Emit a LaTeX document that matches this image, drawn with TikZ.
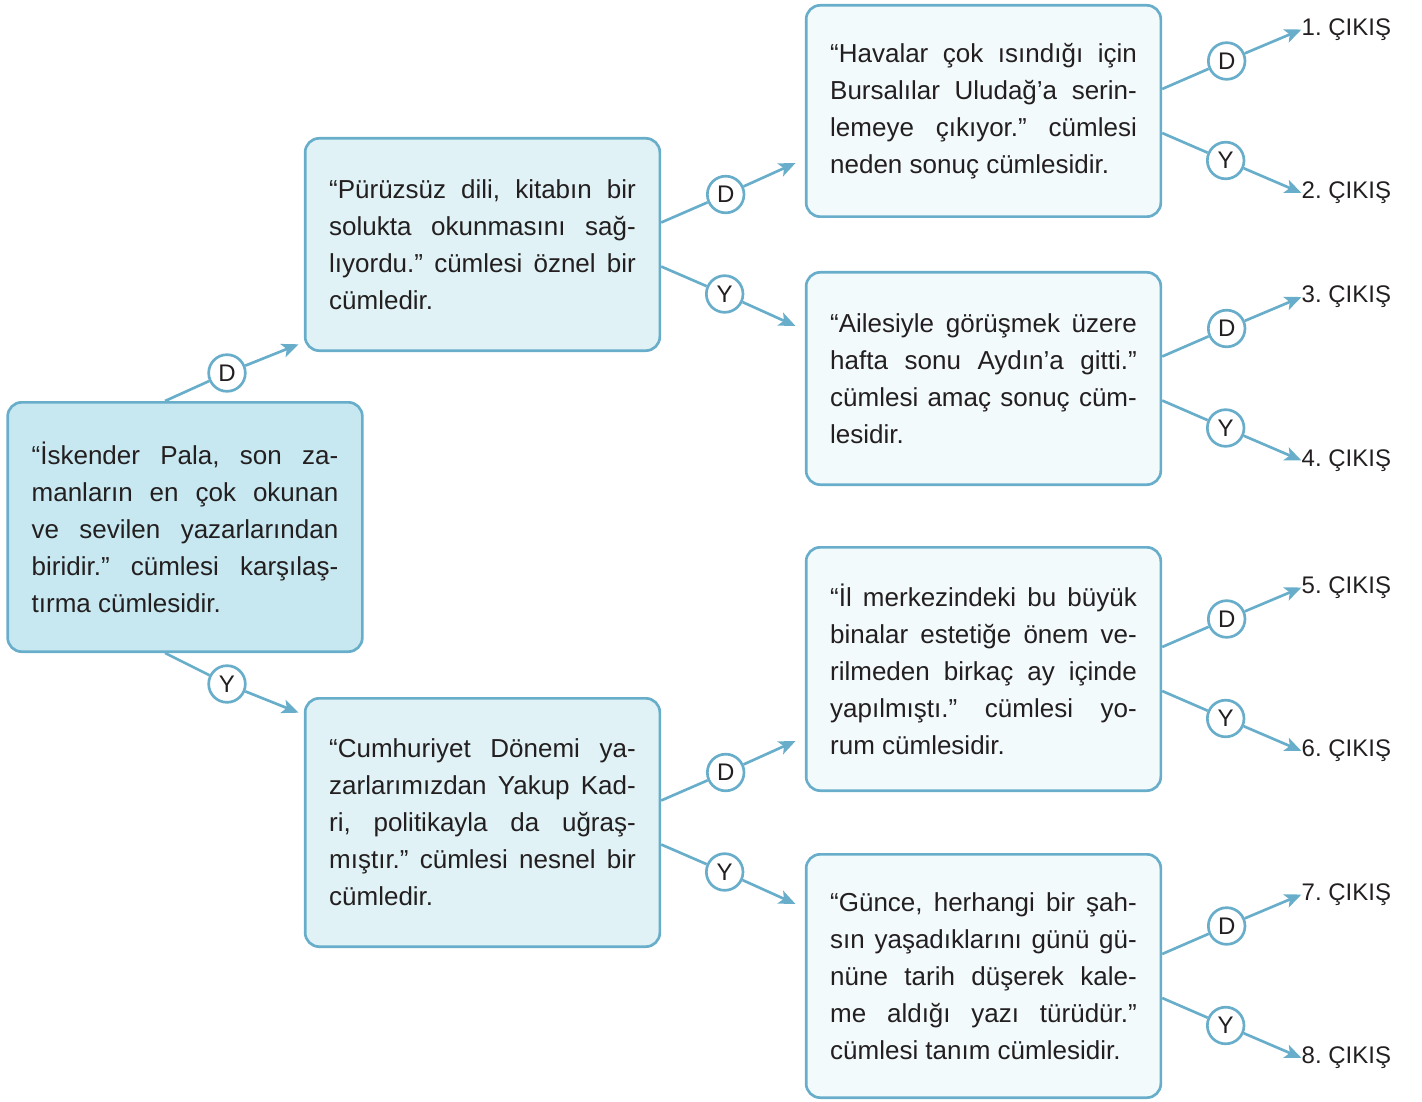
\documentclass[tikz,border=0pt]{standalone}
\usepackage{fontspec}
\setmainfont{Liberation Sans}
\usepackage{xcolor}
\usepackage{tikz}
\usetikzlibrary{arrows.meta,positioning}

\definecolor{edgeblue}{RGB}{104,174,202}
\definecolor{rootfill}{RGB}{199,232,240}
\definecolor{midfill}{RGB}{224,242,245}
\definecolor{leaffill}{RGB}{243,250,252}
\definecolor{inktext}{RGB}{35,31,32}

\hyphenpenalty=10000
\tolerance=9999
\frenchspacing

\begin{document}
\begin{tikzpicture}[x=0.75pt,y=-0.75pt,
    >={Stealth[length=12.5pt,width=10.5pt,inset=3pt]},
    box/.style={rectangle,rounded corners=10.5pt,draw=edgeblue,line width=2pt,text=inktext,
      text width=230pt,inner xsep=18pt,inner ysep=0pt,align=justify,
      font=\fontsize{19.5}{27.75}\selectfont},
    answer/.style={circle,draw=edgeblue,line width=2pt,fill=white,minimum size=27.5pt,
      inner sep=0pt,text=inktext,font=\fontsize{18}{18}\selectfont},
    link/.style={draw=edgeblue,line width=2pt},
    exit/.style={inner sep=0pt,anchor=west,text=inktext,font=\fontsize{18}{18}\selectfont}]
  \useasboundingbox (0,0) rectangle (1422,1102);

  \node[box,fill=rootfill,minimum height=187pt] (root) at (185,527)
    {“İskender Pala, son za-\linebreak manların en çok okunan\linebreak ve sevilen yazarlarından\linebreak biridir.” cümlesi karşılaş-\linebreak tırma cümlesidir.};
  \node[box,fill=midfill,minimum height=159.25pt] (pur) at (482.5,244.5)
    {“Pürüzsüz dili, kitabın bir\linebreak solukta okunmasını sağ-\linebreak lıyordu.” cümlesi öznel bir\linebreak cümledir.};
  \node[box,fill=midfill,minimum height=186.25pt] (cum) at (482.5,822.5)
    {“Cumhuriyet Dönemi ya-\linebreak zarlarımızdan Yakup Kad-\linebreak ri, politikayla da uğraş-\linebreak mıştır.” cümlesi nesnel bir\linebreak cümledir.};
  \node[box,fill=leaffill,minimum height=158.5pt] (hav) at (983.5,111)
    {“Havalar çok ısındığı için\linebreak Bursalılar Uludağ’a serin-\linebreak lemeye çıkıyor.” cümlesi\linebreak neden sonuç cümlesidir.};
  \node[box,fill=leaffill,minimum height=159.25pt] (ail) at (983.5,378.5)
    {“Ailesiyle görüşmek üzere\linebreak hafta sonu Aydın’a gitti.”\linebreak cümlesi amaç sonuç cüm-\linebreak lesidir.};
  \node[box,fill=leaffill,minimum height=182.5pt] (ilm) at (983.5,669)
    {“İl merkezindeki bu büyük\linebreak binalar estetiğe önem ve-\linebreak rilmeden birkaç ay içinde\linebreak yapılmıştı.” cümlesi yo-\linebreak rum cümlesidir.};
  \node[box,fill=leaffill,minimum height=182.5pt] (gun) at (983.5,976)
    {“Günce, herhangi bir şah-\linebreak sın yaşadıklarını günü gü-\linebreak nüne tarih düşerek kale-\linebreak me aldığı yazı türüdür.”\linebreak cümlesi tanım cümlesidir.};

  % first question
  \node[answer] (root-d) at ([shift={(42,-28)}]root.north) {D};
  \node[answer] (root-y) at ([shift={(42,31)}]root.south) {Y};
  \draw[link] ([shift={(-20,0)}]root.north) -- (root-d);
  \draw[link] ([shift={(-20,0)}]root.south) -- (root-y);
  \draw[link,->] (root-d) -- ([shift={(-5.3,-7.7)}]pur.south west);
  \draw[link,->] (root-y) -- ([shift={(-5.3,15.7)}]cum.north west);

  \foreach \q in {pur,cum,hav,ail,ilm,gun}{
    \node[answer] (\q-d) at ([shift={(64.5,-50)}]\q.east) {D};
    \node[answer] (\q-y) at ([shift={(63.5,49.5)}]\q.east) {Y};
    \draw[link] ([shift={(0,-22)}]\q.east) -- (\q-d);
    \draw[link] ([shift={(0,22)}]\q.east) -- (\q-y);
  }

  \draw[link,->] (pur-d) -- ([shift={(-9.3,52)}]hav.west);
  \draw[link,->] (pur-y) -- ([shift={(-9.3,-52.5)}]ail.west);
  \draw[link,->] (cum-d) -- ([shift={(-9.3,72)}]ilm.west);
  \draw[link,->] (cum-y) -- ([shift={(-9.3,-72)}]gun.west);

  \foreach \q/\n/\m in {hav/1/2,ail/3/4,ilm/5/6,gun/7/8}{
    \node[exit] (exit\n) at ([shift={(139.3,-81.5)}]\q.east) {\n. ÇIKIŞ};
    \node[exit] (exit\m) at ([shift={(139.3,82)}]\q.east) {\m. ÇIKIŞ};
    \draw[link,->] (\q-d) -- (exit\n.west);
    \draw[link,->] (\q-y) -- (exit\m.west);
  }
\end{tikzpicture}
\end{document}
